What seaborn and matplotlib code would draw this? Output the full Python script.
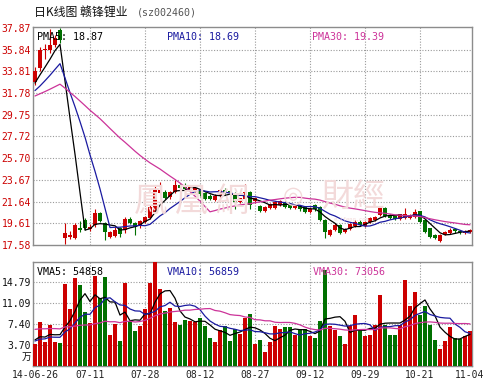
import numpy as np
import pandas as pd
import matplotlib
matplotlib.use("Agg")
import matplotlib.pyplot as plt
import seaborn as sns

# ---------------- data ----------------
date_labels = ["14-06-26", "07-11", "07-28", "08-12", "08-27", "09-12", "09-29", "10-21", "11-04"]
date_pos = [0, 11, 22, 33, 44, 55, 66, 77, 87]

opens = [32.8, 34.1, 35.8, 35.8, 36.3, 37.7, 18.21, 18.3, 18.21, 19.15,
         19.9, 19.1, 19.45, 20.58, 19.6, 18.35, 18.45, 19.17, 19.0, 20.0,
         19.6, 19.4, 19.7, 20.1, 20.7, 22.45, 22.54, 22.1, 22.5, 23.2,
         23.1, 22.7, 22.6, 22.75, 22.45, 22.2, 21.75, 22.2, 22.7, 22.6,
         22.45, 21.6, 21.9, 22.5, 21.7, 21.2, 20.8, 21.05, 21.05, 21.3,
         21.55, 21.45, 21.05, 21.2, 21.1, 20.7, 21.3, 21.1, 19.9, 18.5,
         19.0, 19.45, 18.8, 19.1, 19.36, 19.73, 19.4, 19.73, 19.92, 20.4,
         21.05, 20.4, 20.3, 20.0, 20.11, 20.11, 20.2, 20.76, 19.92, 19.17,
         18.52, 17.96, 18.61, 18.7, 19.1, 18.9, 18.7, 18.8]
highs = [34.2, 36.1, 36.4, 37.8, 37.2, 37.87, 19.6, 18.9, 19.6, 19.8,
         20.1, 19.5, 20.9, 20.7, 19.7, 18.9, 19.3, 19.3, 20.2, 20.2,
         19.7, 19.9, 20.3, 21.3, 23.1, 23.5, 22.7, 22.6, 23.7, 23.3,
         23.4, 23.1, 23.0, 22.8, 22.5, 22.3, 22.3, 22.8, 22.9, 22.7,
         22.5, 22.0, 23.3, 22.6, 22.0, 21.3, 21.2, 21.5, 21.7, 21.8,
         21.65, 21.55, 21.4, 21.3, 21.2, 21.1, 21.4, 21.2, 20.0, 19.1,
         19.6, 19.5, 19.2, 19.6, 19.9, 19.9, 19.8, 20.2, 20.3, 21.2,
         21.1, 20.5, 20.4, 20.5, 21.0, 20.5, 20.9, 20.8, 20.0, 19.2,
         18.6, 18.6, 18.9, 19.2, 19.2, 19.0, 19.0, 19.1]
lows = [32.5, 33.8, 35.0, 35.5, 36.1, 36.5, 17.65, 18.1, 18.1, 18.8,
        19.0, 18.9, 19.3, 19.7, 18.05, 18.2, 18.3, 18.3, 18.7, 19.5,
        18.5, 19.2, 19.6, 20.0, 20.6, 22.3, 21.9, 21.9, 22.4, 22.8,
        22.7, 22.6, 22.5, 22.2, 21.8, 21.8, 21.7, 22.1, 22.3, 22.3,
        20.9, 21.5, 21.8, 20.9, 21.5, 20.7, 20.7, 20.95, 20.9, 21.2,
        21.05, 20.95, 20.95, 20.8, 20.6, 20.6, 20.8, 19.8, 18.2, 18.4,
        18.9, 18.6, 18.7, 19.0, 19.3, 19.4, 19.3, 19.6, 19.8, 20.3,
        20.2, 20.0, 19.9, 19.9, 20.0, 20.0, 20.1, 19.6, 18.7, 18.2,
        18.1, 17.85, 18.5, 18.6, 18.7, 18.6, 18.6, 18.7]
closes = [33.8, 35.8, 35.9, 36.3, 36.9, 36.75, 18.67, 18.55, 19.45, 19.0,
          19.2, 19.3, 20.58, 19.8, 18.8, 18.75, 18.95, 18.6, 20.0, 19.6,
          19.3, 19.8, 20.2, 21.1, 22.7, 22.73, 22.0, 22.5, 23.2, 22.9,
          22.8, 23.0, 22.9, 22.3, 21.85, 21.9, 22.2, 22.7, 22.4, 22.5,
          21.6, 21.95, 22.5, 21.3, 21.95, 20.8, 21.1, 21.4, 21.6, 21.65,
          21.15, 21.05, 21.3, 20.9, 20.65, 20.95, 20.9, 19.9, 18.8, 19.0,
          19.45, 18.7, 19.1, 19.55, 19.73, 19.45, 19.73, 20.1, 20.2, 21.05,
          20.3, 20.1, 20.05, 20.45, 20.5, 20.4, 20.67, 19.73, 18.8, 18.33,
          18.24, 18.52, 18.75, 18.95, 18.85, 18.75, 18.85, 19.0]
volumes = [3.88, 7.81, 4.29, 7.22, 4.29, 3.99, 14.45, 9.98, 15.45, 14.27,
           9.57, 7.52, 15.92, 11.92, 15.62, 5.46, 7.4, 4.46, 14.57, 8.0,
           6.2, 7.1, 10.0, 14.57, 18.38, 13.5, 9.7, 10.3, 7.8, 7.22,
           8.1, 7.99, 7.81, 8.4, 7.05, 4.87, 4.29, 6.34, 7.05, 4.46,
           6.46, 5.64, 8.5, 9.16, 3.88, 4.58, 2.52, 4.29, 7.05, 6.46,
           6.81, 6.81, 5.46, 6.46, 6.46, 5.28, 4.87, 7.87, 16.9, 7.05,
           6.34, 5.28, 3.82, 7.05, 8.98, 6.34, 5.28, 5.46, 7.22, 12.5,
           7.22, 5.46, 5.46, 7.22, 15.15, 10.57, 12.98, 8.98, 10.5, 7.2,
           4.58, 3.0, 4.46, 6.8, 4.87, 4.7, 5.2, 6.2]
# sessions before the first visible day (needed for the moving averages)
prior_closes = [29.5, 29.8, 29.6, 29.9, 29.7, 29.8, 30.5, 31.0, 31.6, 32.0,
                32.4, 32.2, 31.9, 32.3, 32.6, 32.4, 32.0, 31.8, 32.1, 31.9,
                31.5, 31.0, 31.2, 31.4, 31.4, 32.0, 32.3, 32.6, 32.9]
prior_volumes = [5.0, 4.2, 6.0, 4.5, 5.5, 4.0, 9.0, 12.0, 10.0, 8.0,
                 7.5, 9.0, 8.0, 6.5, 8.5, 7.0, 9.5, 8.0, 7.0, 10.5,
                 4.5, 3.8, 4.0, 4.6, 4.1, 5.0, 4.6, 4.9, 4.6]

price_ticks = [17.58, 19.61, 21.64, 23.67, 25.70, 27.72, 29.75, 31.78, 33.81, 35.84, 37.87]
vol_ticks = [3.70, 7.40, 11.09, 14.79]
price_ma_labels = ["PMA5: 18.87", "PMA10: 18.69", "PMA30: 19.39"]
vol_ma_labels = ["VMA5: 54858", "VMA10: 56859", "VMA30: 73056"]
title_cn = "日K线图 赣锋锂业"
title_code = "(sz002460)"
vol_unit = "万"
watermark_a = "鳳 凰 網"
watermark_b = "財經"
watermark_url = "e.ifeng.com"
ma_windows = [5, 10, 30]

# ---------------- style ----------------
sns.set_style("white")
plt.rcParams['font.family'] = ['DejaVu Sans Mono']

RED = "#cc0000"
GREEN = "#007000"
MA_COLORS = ["#000000", "#1a1aa0", "#cc3399"]
GRID = "#9a9a9a"
FRAME = "#8c8c8c"

W, H = 492, 383
fig = plt.figure(figsize=(W / 100, H / 100), dpi=100)
fig.patch.set_facecolor("white")


def rect(l, t, r, b):
    return [l / W, 1 - b / H, (r - l) / W, (b - t) / H]


axp = fig.add_axes(rect(33, 27, 472, 245))
axv = fig.add_axes(rect(33, 262, 472, 366))

n = len(closes)
idx = np.arange(n)
o = np.array(opens); c = np.array(closes); h = np.array(highs); l = np.array(lows)
up = c >= o
cols = np.where(up, RED, GREEN)

df = pd.DataFrame({"i": idx, "open": o, "close": c, "high": h, "low": l, "vol": volumes})
full_c = pd.Series(prior_closes + closes)
full_v = pd.Series(prior_volumes + volumes)
np_ = len(prior_closes)
for w in ma_windows:
    df[f"ma{w}"] = full_c.rolling(w).mean().iloc[np_:].to_numpy()
    df[f"vma{w}"] = full_v.rolling(w).mean().iloc[np_:].to_numpy()

# ---------------- watermark ----------------
wm_col = "#f3dada"
fig.text(192 / W, 1 - 201 / H, watermark_a, fontsize=24, color=wm_col,
         family=['Noto Sans CJK TC', 'DejaVu Sans'], ha='center', va='center', zorder=0.5)
fig.text(293 / W, 1 - 196 / H, "◎", fontsize=17, color=wm_col,
         family=['DejaVu Sans'], ha='center', va='center', zorder=0.5)
fig.text(354 / W, 1 - 197 / H, watermark_b, fontsize=23, color=wm_col,
         family=['Noto Sans CJK TC', 'DejaVu Sans'], ha='center', va='center', zorder=0.5)
fig.text(352 / W, 1 - 220 / H, watermark_url, fontsize=4, color=wm_col,
         ha='center', va='center', zorder=0.5)

# ---------------- price panel ----------------
axp.set_facecolor("none")
axv.set_facecolor("white")
for yv in price_ticks[1:-1]:
    axp.axhline(yv, color=GRID, lw=0.8, ls=(0, (1, 1.5)), zorder=1)
for xv in date_pos[1:-1]:
    axp.axvline(xv, color=GRID, lw=0.8, ls=(0, (1, 1.5)), zorder=1)

axp.vlines(idx, l, h, colors=cols, lw=0.8, zorder=3)
body = np.maximum(np.abs(c - o), 0.06)
axp.bar(idx, body, bottom=np.minimum(o, c), width=0.72, color=cols, lw=0, zorder=4)

for w, col in zip(ma_windows, MA_COLORS):
    sns.lineplot(data=df, x="i", y=f"ma{w}", ax=axp, color=col, lw=0.9, legend=False, zorder=5)

axp.set_xlim(-0.4, 87.4)
axp.set_ylim(17.58, 37.95)
axp.set_yticks(price_ticks)
axp.set_yticklabels([f"{t:.2f}" for t in price_ticks], color=RED, fontsize=7)
axp.set_xticks([])
axp.tick_params(axis='y', length=0, pad=1.5)
axp.set_xlabel(""); axp.set_ylabel("")
for s in axp.spines.values():
    s.set_color(FRAME); s.set_linewidth(1)

for txt, xp, col in zip(price_ma_labels, [37, 167, 312], MA_COLORS):
    fig.text(xp / W, 1 - 36.5 / H, txt, fontsize=7.2, color=col, ha='left', va='center', zorder=10)

# ---------------- volume panel ----------------
for yv in vol_ticks:
    axv.axhline(yv, color=GRID, lw=0.8, ls=(0, (1, 1.5)), zorder=1)
for xv in date_pos[1:-1]:
    axv.axvline(xv, color=GRID, lw=0.8, ls=(0, (1, 1.5)), zorder=1)
axv.bar(idx, volumes, width=0.72, color=cols, lw=0, zorder=3)
for w, col in zip(ma_windows, MA_COLORS):
    sns.lineplot(data=df, x="i", y=f"vma{w}", ax=axv, color=col, lw=0.9, legend=False, zorder=5)

axv.set_xlim(-0.4, 87.4)
axv.set_ylim(0, 18.32)
axv.set_yticks(vol_ticks)
axv.set_yticklabels([f"{t:.2f}" for t in vol_ticks], color="#111111", fontsize=7)
axv.set_xticks(date_pos)
axv.set_xticklabels(date_labels, color="#222222", fontsize=7)
axv.tick_params(axis='both', length=0, pad=1.5)
axv.tick_params(axis='x', pad=3)
axv.set_xlabel(""); axv.set_ylabel("")
for s in axv.spines.values():
    s.set_color(FRAME); s.set_linewidth(1)

for txt, xp, col in zip(vol_ma_labels, [37, 167, 313], MA_COLORS):
    fig.text(xp / W, 1 - 272 / H, txt, fontsize=7.2, color=col, ha='left', va='center', zorder=10)

fig.text(27 / W, 1 - 357 / H, vol_unit, fontsize=7, color="#111111",
         family=['Noto Sans CJK SC', 'DejaVu Sans'], ha='center', va='center')

# ---------------- title ----------------
fig.text(34 / W, 1 - 12.5 / H, title_cn, fontsize=8.6, color="#111111",
         family=['Noto Sans CJK SC', 'DejaVu Sans'], ha='left', va='center')
fig.text(137 / W, 1 - 12.5 / H, title_code, fontsize=7.2, color="#555555",
         ha='left', va='center')

fig.savefig("out.png", dpi=100)
